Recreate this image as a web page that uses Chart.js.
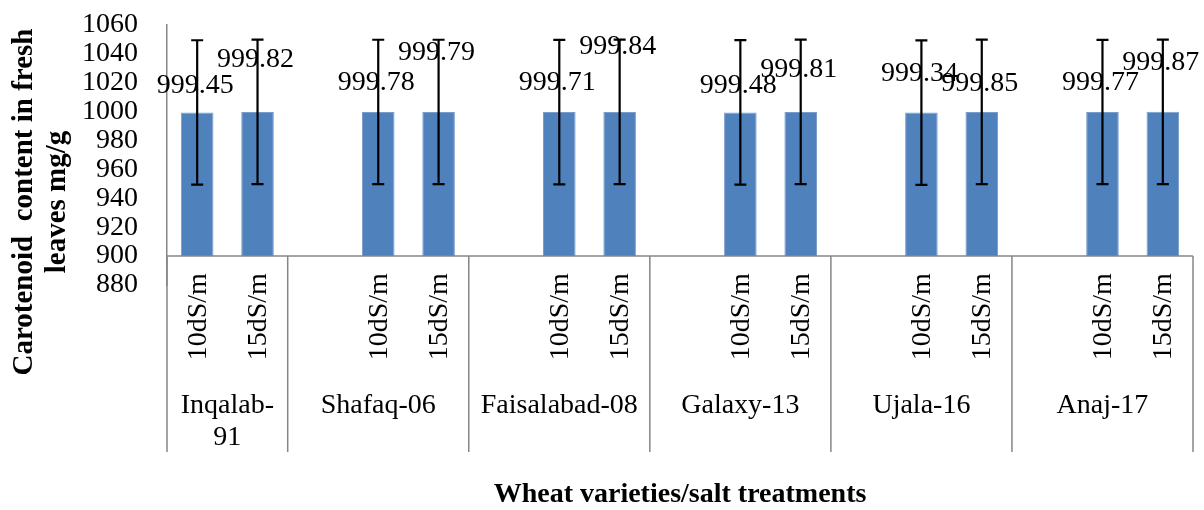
<!DOCTYPE html>
<html>
<head>
<meta charset="utf-8">
<script src="https://cdn.jsdelivr.net/npm/chart.js@4.4.0/dist/chart.umd.min.js"></script>
<style>
  html, body { margin: 0; padding: 0; background: #fff; }
  #wrap { width: 1204px; height: 510px; }
</style>
</head>
<body>
<div id="wrap"><canvas id="chart" width="1204" height="510"></canvas></div>
<script>
// chart values
const varieties = ['Inqalab-91', 'Shafaq-06', 'Faisalabad-08', 'Galaxy-13', 'Ujala-16', 'Anaj-17'];
const treatments = ['10dS/m', '15dS/m'];
const values10 = [999.45, 999.78, 999.71, 999.48, 999.34, 999.77];
const values15 = [999.82, 999.79, 999.84, 999.81, 999.85, 999.87];
const errors10 = [50, 50, 50, 50, 50, 50];
const errors15 = [50, 50, 50, 50, 50, 50];
const yMin = 880;
const yMax = 1060;
const yStep = 20;
const axisBase = 900;

// how far each value label sits above its bar (px), in bar order
const labelRise = [27, 52, 29, 59, 29, 65, 27, 42, 39, 28, 29, 49];

const FONT = "'Liberation Serif', 'Times New Roman', serif";
const AXIS_GREY = '#868686';

// one slot per bar, plus an empty slot in front of every group but the first
const slotLabels = [];
const slotValues = [];
const slotErrors = [];
const slotGroup = [];
varieties.forEach(function (name, g) {
  if (g > 0) {
    slotLabels.push('');
    slotValues.push(null);
    slotErrors.push(null);
    slotGroup.push(g);
  }
  slotLabels.push(treatments[0]);
  slotValues.push(values10[g]);
  slotErrors.push(errors10[g]);
  slotGroup.push(g);
  slotLabels.push(treatments[1]);
  slotValues.push(values15[g]);
  slotErrors.push(errors15[g]);
  slotGroup.push(g);
});

const overlay = {
  id: 'overlay',
  afterDatasetsDraw(chart) {
    const ctx = chart.ctx;
    const xs = chart.scales.x;
    const ys = chart.scales.y;
    const area = chart.chartArea;
    const axisY = ys.getPixelForValue(axisBase);
    const bottomY = 452;

    ctx.save();

    // category axis line and group separators
    ctx.strokeStyle = AXIS_GREY;
    ctx.lineWidth = 1.5;
    ctx.beginPath();
    ctx.moveTo(area.left, axisY);
    ctx.lineTo(area.right, axisY);
    ctx.stroke();

    const edges = [area.left];
    for (let s = 1; s < slotGroup.length; s++) {
      if (slotGroup[s] !== slotGroup[s - 1]) {
        edges.push((xs.getPixelForValue(s - 1) + xs.getPixelForValue(s)) / 2);
      }
    }
    edges.push(area.right);

    ctx.beginPath();
    edges.forEach(function (x) {
      ctx.moveTo(x, axisY);
      ctx.lineTo(x, bottomY);
    });
    ctx.moveTo(area.left, area.bottom);
    ctx.lineTo(area.left, bottomY);
    ctx.stroke();

    // treatment labels, rotated
    ctx.fillStyle = '#000';
    ctx.font = '28px ' + FONT;
    slotLabels.forEach(function (lab, s) {
      if (!lab) return;
      ctx.save();
      ctx.translate(xs.getPixelForValue(s), axisY + 17);
      ctx.rotate(-Math.PI / 2);
      ctx.textAlign = 'right';
      ctx.textBaseline = 'middle';
      ctx.fillText(lab, 0, 1);
      ctx.restore();
    });

    // variety labels, wrapped after the hyphen when too wide
    ctx.textAlign = 'center';
    ctx.textBaseline = 'middle';
    varieties.forEach(function (name, g) {
      const cx = (edges[g] + edges[g + 1]) / 2;
      const room = edges[g + 1] - edges[g] - 6;
      let lines = [name];
      if (ctx.measureText(name).width > room && name.indexOf('-') > 0) {
        const cut = name.indexOf('-') + 1;
        lines = [name.slice(0, cut), name.slice(cut)];
      }
      lines.forEach(function (line, i) {
        ctx.fillText(line, cx, 406 + i * 32);
      });
    });

    // value labels
    const meta = chart.getDatasetMeta(0);
    let b = 0;
    meta.data.forEach(function (bar, s) {
      if (slotValues[s] === null) return;
      const top = ys.getPixelForValue(slotValues[s]);
      ctx.fillText(slotValues[s].toFixed(2), bar.x - 2, top - labelRise[b]);
      b++;
    });

    // error bars
    ctx.strokeStyle = '#000';
    ctx.lineWidth = 2.2;
    meta.data.forEach(function (bar, s) {
      if (slotValues[s] === null) return;
      const hi = ys.getPixelForValue(slotValues[s] + slotErrors[s]);
      const lo = ys.getPixelForValue(slotValues[s] - slotErrors[s]);
      ctx.beginPath();
      ctx.moveTo(bar.x, hi);
      ctx.lineTo(bar.x, lo);
      ctx.moveTo(bar.x - 6, hi);
      ctx.lineTo(bar.x + 6, hi);
      ctx.moveTo(bar.x - 6, lo);
      ctx.lineTo(bar.x + 6, lo);
      ctx.stroke();
    });

    // axis titles
    ctx.font = 'bold 28px ' + FONT;
    ctx.fillText('Wheat varieties/salt treatments', (area.left + area.right) / 2, 495);

    ctx.save();
    ctx.translate(0, 202);
    ctx.rotate(-Math.PI / 2);
    ctx.font = 'bold 29px ' + FONT;
    ctx.fillText('Carotenoid  content in fresh', 0, 25);
    ctx.fillText('leaves mg/g', 0, 58);
    ctx.restore();

    ctx.restore();
  }
};

new Chart(document.getElementById('chart'), {
  type: 'bar',
  data: {
    labels: slotLabels,
    datasets: [{
      data: slotValues,
      base: axisBase,
      backgroundColor: '#4F81BD',
      borderColor: '#7A9CCB',
      borderWidth: 1,
      categoryPercentage: 1,
      barPercentage: 0.54
    }]
  },
  options: {
    responsive: false,
    animation: false,
    layout: { padding: { top: 25, right: 11, bottom: 225, left: 0 } },
    plugins: {
      legend: { display: false },
      tooltip: { enabled: false }
    },
    scales: {
      x: { display: false },
      y: {
        min: yMin,
        max: yMax,
        afterFit: function (scale) {
          scale.width = 167;
          scale.paddingTop = 0;
          scale.paddingBottom = 0;
        },
        ticks: {
          stepSize: yStep,
          autoSkip: false,
          padding: 29,
          color: '#000',
          font: { family: FONT, size: 28, lineHeight: 1 },
          callback: function (v) { return String(v); }
        },
        grid: { display: false, drawTicks: false },
        border: { display: true, color: AXIS_GREY, width: 1.5 }
      }
    }
  },
  plugins: [overlay]
});
</script>
</body>
</html>
